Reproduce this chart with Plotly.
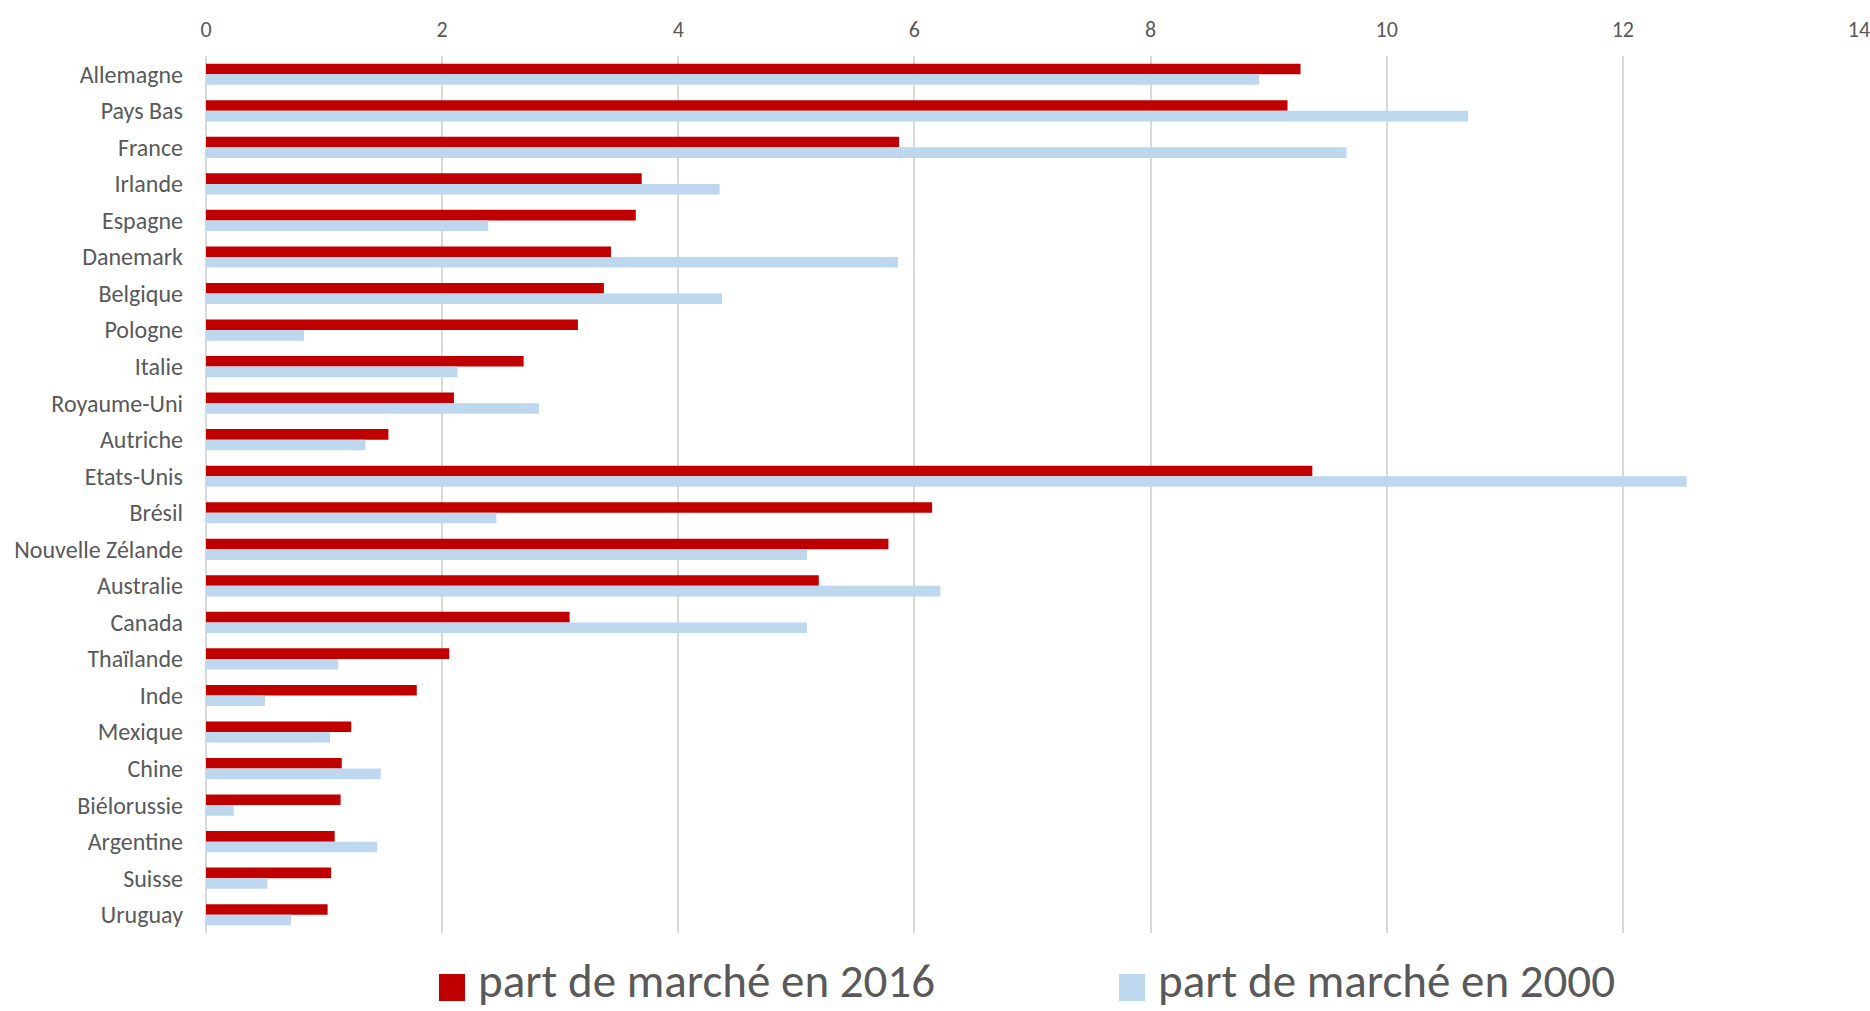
import plotly.graph_objects as go

countries = ["Allemagne", "Pays Bas", "France", "Irlande", "Espagne", "Danemark", "Belgique",
             "Pologne", "Italie", "Royaume-Uni", "Autriche", "Etats-Unis", "Brésil",
             "Nouvelle Zélande", "Australie", "Canada", "Thaïlande", "Inde", "Mexique",
             "Chine", "Biélorussie", "Argentine", "Suisse", "Uruguay"]
part_2016 = [9.27, 9.16, 5.87, 3.69, 3.64, 3.43, 3.37, 3.15, 2.69, 2.10, 1.545, 9.37, 6.15,
             5.78, 5.19, 3.08, 2.06, 1.785, 1.23, 1.15, 1.14, 1.09, 1.06, 1.03]
part_2000 = [8.92, 10.69, 9.66, 4.35, 2.39, 5.86, 4.37, 0.83, 2.13, 2.82, 1.35, 12.54, 2.46,
             5.09, 6.22, 5.09, 1.12, 0.50, 1.05, 1.48, 0.235, 1.45, 0.52, 0.72]
x_ticks = [0, 2, 4, 6, 8, 10, 12, 14]
series_names = ["part de marché en 2016", "part de marché en 2000"]

RED = "#C00000"
BLUE = "#BDD7EE"
FONT = "Carlito, Calibri, Lato, sans-serif"
GREY = "#595959"

W, H = 1870, 1011
ML, MR, MT, MB = 206, 11, 56, 78
PW, PH = W - ML - MR, H - MT - MB

fig = go.Figure()
fig.add_trace(go.Bar(y=countries, x=part_2016, orientation="h", name=series_names[0],
                     marker=dict(color=RED, line=dict(width=0)), showlegend=False))
fig.add_trace(go.Bar(y=countries, x=part_2000, orientation="h", name=series_names[1],
                     marker=dict(color=BLUE, line=dict(width=0)), showlegend=False))

# custom legend (large square swatches as in the original)
def px_x(px):
    return (px - ML) / PW

def px_y(py):
    return (H - MB - py) / PH

legend_items = [(series_names[0], RED, 439), (series_names[1], BLUE, 1119)]
for name, col, x0 in legend_items:
    fig.add_shape(type="rect", xref="paper", yref="paper",
                  x0=px_x(x0), x1=px_x(x0 + 26), y0=px_y(1001), y1=px_y(974),
                  fillcolor=col, line=dict(width=0))
    fig.add_annotation(text=name, xref="paper", yref="paper", x=px_x(x0 + 38), y=px_y(981),
                       xanchor="left", yanchor="middle", showarrow=False, borderpad=0,
                       font=dict(size=47, color=GREY, family=FONT))

fig.update_layout(
    width=W, height=H,
    margin=dict(l=ML, r=MR, t=MT, b=MB, autoexpand=False),
    paper_bgcolor="white", plot_bgcolor="white",
    barmode="group", bargap=0.42, bargroupgap=0,
    font=dict(family=FONT, color=GREY, size=24),
    xaxis=dict(side="top", range=[0, 14], tickvals=x_ticks, showgrid=True,
               gridcolor="#D9D9D9", gridwidth=1.5, zeroline=True, zerolinecolor="#D9D9D9",
               zerolinewidth=1.5, tickfont=dict(size=22, color=GREY), ticks="",
               ticklabelstandoff=14, showline=False, automargin=False,
               ticklabeloverflow="allow"),
    yaxis=dict(autorange="reversed", type="category", tickfont=dict(size=24, color=GREY),
               ticks="", ticklabelstandoff=22, showline=False, showgrid=False,
               automargin=False),
    showlegend=False,
)

fig.write_html("out.html", config={"displayModeBar": False},
               post_script="document.body.style.margin='0';document.body.style.overflow='hidden';")
